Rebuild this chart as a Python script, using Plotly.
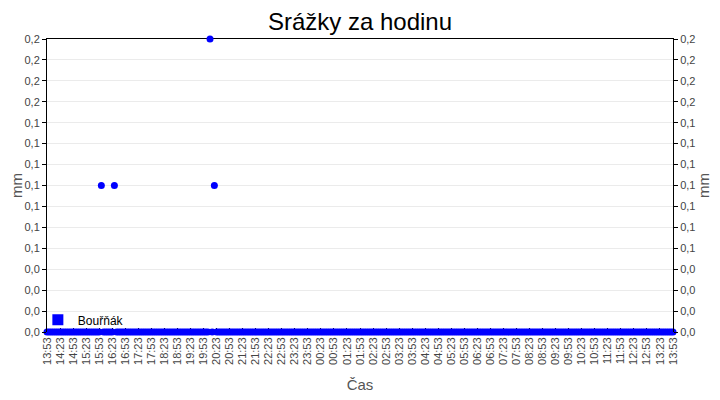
"""Hourly rainfall chart (Srážky za hodinu) for the Bouřňák station, 24 h window."""

from datetime import datetime, timedelta

import plotly.graph_objects as go

START = datetime(2023, 6, 14, 13, 53)
STEP_MIN = 5

# rainfall per hour [mm], one reading every 5 minutes, one row = one hour
rain_mm = [
    0.0, 0.0, 0.0, 0.0, 0.0, 0.0, 0.0, 0.0, 0.0, 0.0, 0.0, 0.0,  # 13:53
    0.0, 0.0, 0.0, 0.0, 0.0, 0.0, 0.0, 0.0, 0.0, 0.0, 0.0, 0.0,  # 14:53
    0.0, 0.1, 0.0, 0.0, 0.0, 0.0, 0.0, 0.1, 0.0, 0.0, 0.0, 0.0,  # 15:53
    0.0, 0.0, 0.0, 0.0, 0.0, 0.0, 0.0, 0.0, 0.0, 0.0, 0.0, 0.0,  # 16:53
    0.0, 0.0, 0.0, 0.0, 0.0, 0.0, 0.0, 0.0, 0.0, 0.0, 0.0, 0.0,  # 17:53
    0.0, 0.0, 0.0, 0.0, 0.0, 0.0, 0.0, 0.0, 0.0, 0.0, 0.0, 0.0,  # 18:53
    0.0, 0.0, 0.0, 0.2, 0.0, 0.1, 0.0, 0.0, 0.0, 0.0, 0.0, 0.0,  # 19:53
    0.0, 0.0, 0.0, 0.0, 0.0, 0.0, 0.0, 0.0, 0.0, 0.0, 0.0, 0.0,  # 20:53
    0.0, 0.0, 0.0, 0.0, 0.0, 0.0, 0.0, 0.0, 0.0, 0.0, 0.0, 0.0,  # 21:53
    0.0, 0.0, 0.0, 0.0, 0.0, 0.0, 0.0, 0.0, 0.0, 0.0, 0.0, 0.0,  # 22:53
    0.0, 0.0, 0.0, 0.0, 0.0, 0.0, 0.0, 0.0, 0.0, 0.0, 0.0, 0.0,  # 23:53
    0.0, 0.0, 0.0, 0.0, 0.0, 0.0, 0.0, 0.0, 0.0, 0.0, 0.0, 0.0,  # 00:53
    0.0, 0.0, 0.0, 0.0, 0.0, 0.0, 0.0, 0.0, 0.0, 0.0, 0.0, 0.0,  # 01:53
    0.0, 0.0, 0.0, 0.0, 0.0, 0.0, 0.0, 0.0, 0.0, 0.0, 0.0, 0.0,  # 02:53
    0.0, 0.0, 0.0, 0.0, 0.0, 0.0, 0.0, 0.0, 0.0, 0.0, 0.0, 0.0,  # 03:53
    0.0, 0.0, 0.0, 0.0, 0.0, 0.0, 0.0, 0.0, 0.0, 0.0, 0.0, 0.0,  # 04:53
    0.0, 0.0, 0.0, 0.0, 0.0, 0.0, 0.0, 0.0, 0.0, 0.0, 0.0, 0.0,  # 05:53
    0.0, 0.0, 0.0, 0.0, 0.0, 0.0, 0.0, 0.0, 0.0, 0.0, 0.0, 0.0,  # 06:53
    0.0, 0.0, 0.0, 0.0, 0.0, 0.0, 0.0, 0.0, 0.0, 0.0, 0.0, 0.0,  # 07:53
    0.0, 0.0, 0.0, 0.0, 0.0, 0.0, 0.0, 0.0, 0.0, 0.0, 0.0, 0.0,  # 08:53
    0.0, 0.0, 0.0, 0.0, 0.0, 0.0, 0.0, 0.0, 0.0, 0.0, 0.0, 0.0,  # 09:53
    0.0, 0.0, 0.0, 0.0, 0.0, 0.0, 0.0, 0.0, 0.0, 0.0, 0.0, 0.0,  # 10:53
    0.0, 0.0, 0.0, 0.0, 0.0, 0.0, 0.0, 0.0, 0.0, 0.0, 0.0, 0.0,  # 11:53
    0.0, 0.0, 0.0, 0.0, 0.0, 0.0, 0.0, 0.0, 0.0, 0.0, 0.0, 0.0,  # 12:53
    0.0,                                                          # 13:53
]
times = [START + timedelta(minutes=STEP_MIN * i) for i in range(len(rain_mm))]

Y_MAX = 0.2
N_TICKS = 14
# the station software rounds every tick to one decimal, hence the repeats
y_tick_labels = ["0,0", "0,0", "0,0", "0,0", "0,1", "0,1", "0,1", "0,1",
                 "0,1", "0,1", "0,1", "0,2", "0,2", "0,2", "0,2"]
y_tick_vals = [Y_MAX * i / N_TICKS for i in range(N_TICKS + 1)]

BLUE = "#0000ff"
FONT = "Liberation Sans"
TICK = dict(family=FONT, size=11, color="#444444")
AXT = dict(family=FONT, size=15, color="#555555")

# the page body keeps its default 8px margin, so the figure is 8px smaller
# than the 720x400 window and margins are shifted to compensate
W, H = 712, 392

fig = go.Figure()
fig.add_trace(go.Scatter(
    x=times, y=rain_mm, mode="markers", showlegend=False, cliponaxis=False,
    marker=dict(color=BLUE, size=7, line=dict(width=0))))
# legend swatch is a square in the original
fig.add_trace(go.Scatter(
    x=[None], y=[None], mode="markers", name="Bouřňák",
    marker=dict(color=BLUE, symbol="square", size=11)))
# invisible trace to drive the mirrored right-hand axis
fig.add_trace(go.Scatter(x=[times[0]], y=[0], yaxis="y2", mode="markers",
                         marker=dict(opacity=0), showlegend=False, hoverinfo="skip"))

yaxis_common = dict(range=[0, Y_MAX], tickvals=y_tick_vals, ticktext=y_tick_labels,
                    tickfont=TICK, ticks="outside", ticklen=4, tickcolor="#000",
                    showline=True, linecolor="#000", linewidth=1, automargin=False,
                    title=dict(text="mm", font=AXT, standoff=4), zeroline=False)

fig.update_layout(
    width=W, height=H,
    paper_bgcolor="white", plot_bgcolor="white",
    margin=dict(l=39, r=47, t=31, b=68),
    title=dict(text="Srážky za hodinu", x=(360 - 8) / W, xanchor="center",
               y=1 - 14 / H, yref="container", yanchor="middle",
               font=dict(family=FONT, size=24, color="#000")),
    xaxis=dict(type="date", range=[times[0], times[-1]], automargin=False,
               tick0=times[0], dtick=30 * 60 * 1000, tickformat="%H:%M",
               tickangle=-90, tickfont=TICK, ticks="inside", ticklen=4,
               tickcolor="#000", showgrid=False, showline=True,
               linecolor="#000", mirror=True, zeroline=False,
               layer="below traces",
               title=dict(text="Čas", font=AXT, standoff=15)),
    yaxis=dict(**yaxis_common, showgrid=True, gridcolor="#ebebeb"),
    yaxis2=dict(**yaxis_common, overlaying="y", side="right", showgrid=False),
    legend=dict(x=-0.0146, y=-0.008, xanchor="left", yanchor="bottom",
                bgcolor="rgba(0,0,0,0)",
                font=dict(family=FONT, size=12, color="#000"),
                itemwidth=30),
)

fig.write_html("out.html")
